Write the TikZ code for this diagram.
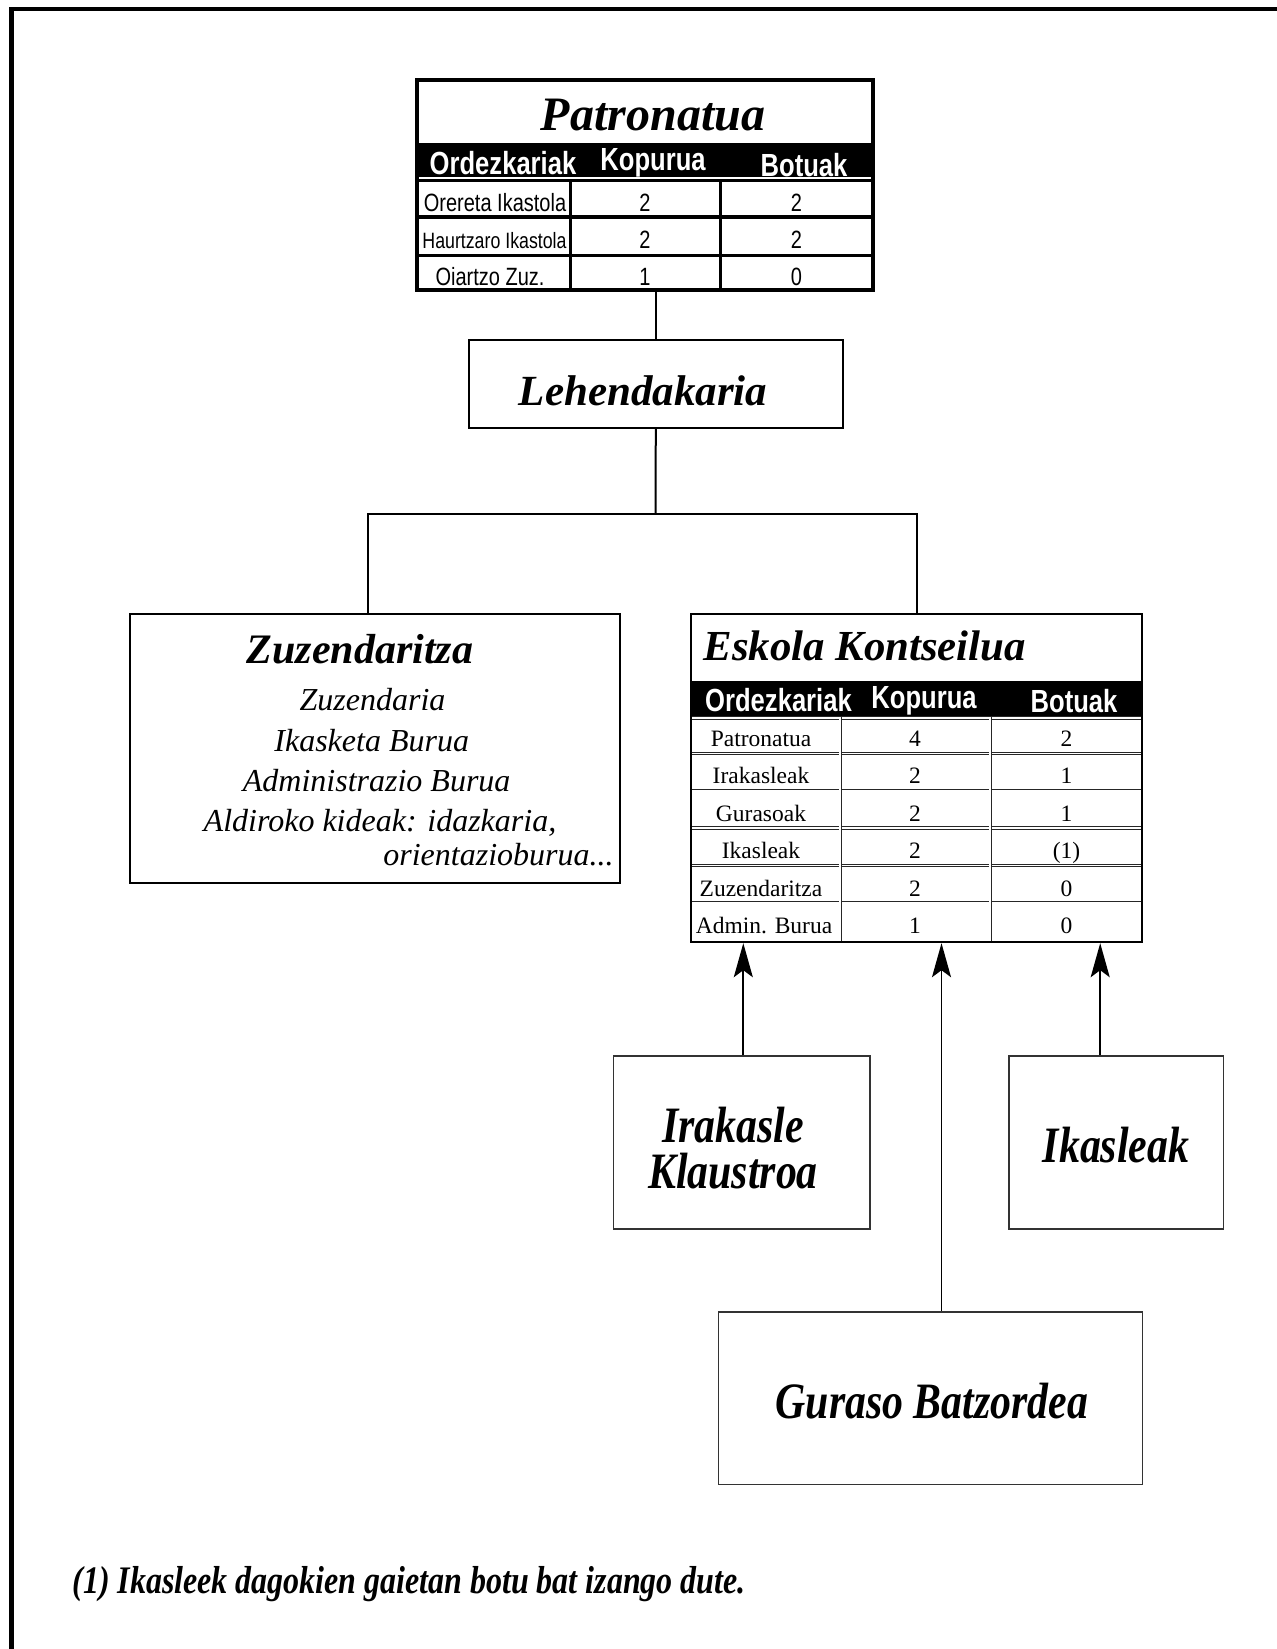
\documentclass[tikz,border=0pt]{standalone}
\usepackage{fontspec}
\setmainfont{Liberation Serif}
\newfontfamily\narrowsans[FakeStretch=0.8]{Liberation Sans}
\newfontfamily\narrowserif[FakeStretch=0.82]{Liberation Serif}
\usetikzlibrary{arrows.meta}

\begin{document}
\begin{tikzpicture}[x=0.5pt, y=-0.5pt,
	box/.style={draw, line width=1pt, inner sep=0pt},
	lowbox/.style={draw=black!80, line width=0.8pt, inner sep=0pt, minimum height=86.3pt},
	bigtitle/.style={inner sep=0pt, anchor=base, font=\fontsize{22}{26}\selectfont\bfseries\itshape},
	member/.style={inner sep=0pt, anchor=base, font=\fontsize{16}{20}\selectfont\itshape},
	hdr/.style={inner sep=0pt, anchor=base, text=white, font=\narrowsans\fontsize{16}{18}\selectfont\bfseries},
	pcell/.style={inner sep=0pt, anchor=base, font=\narrowsans\fontsize{12.5}{14}\selectfont},
	ecell/.style={inner sep=0pt, anchor=base, font=\fontsize{11.75}{14}\selectfont},
	group/.style={inner sep=0pt, align=center, font=\narrowserif\fontsize{25.5}{23}\selectfont\bfseries\itshape},
	rowline/.style={draw=black!85, line width=0.4pt, double=white, double distance=0.8pt},
	up/.style={-{Stealth[length=17pt, width=9.5pt, inset=3.5pt]}, line width=0.9pt}]
	\useasboundingbox (0,0) rectangle (1276,1649);
	
	%Frame
	\draw[line width=2.2pt] (11.5,1670) -- (11.5,9) -- (1300,9);
	
	%Patronatua
	\fill[black] (418,142.7) rectangle (872,177.3);
	\draw[line width=1.2pt] (418,180.5) -- (872,180.5);
	\draw[line width=1.6pt] (418,217) -- (872,217);
	\draw[line width=1.6pt] (418,255.3) -- (872,255.3);
	\draw[line width=1.6pt] (570.5,180) -- (570.5,290);
	\draw[line width=1.6pt] (720.5,180) -- (720.5,290);
	\node[draw, line width=2pt, inner sep=0pt, minimum width=228pt, minimum height=105.25pt] (patr) at (645,184.75) {};
	\node[bigtitle, font=\fontsize{24}{28}\selectfont\bfseries\itshape] (patr-t) at (653,130) {Patronatua};
	\node[hdr] (ph1) at (503,174) {Ordezkariak};
	\node[hdr] (ph2) at (653,170) {Kopurua};
	\node[hdr] (ph3) at (804,176) {Botuak};
	\node[pcell] (p11) at (495,211.7) {Orereta Ikastola};
	\node[pcell] (p12) at (645,211.7) {2};
	\node[pcell] (p13) at (796.5,211.7) {2};
	\node[pcell, font=\narrowsans\fontsize{11.1}{13}\selectfont] (p21) at (494.5,248) {Haurtzaro Ikastola};
	\node[pcell] (p22) at (645,248) {2};
	\node[pcell] (p23) at (796.5,248) {2};
	\node[pcell] (p31) at (490,285) {Oiartzo Zuz.};
	\node[pcell] (p32) at (645,285) {1};
	\node[pcell] (p33) at (796.5,285) {0};
	
	%Lehendakaria
	\node[box, minimum width=187pt, minimum height=44pt] (leh) at (655.8,384.2) {};
	\node[bigtitle, font=\fontsize{21.5}{26}\selectfont\bfseries\itshape] (leh-t) at (643,405) {Lehendakaria};
	
	%Zuzendaritza
	\node[box, minimum width=245pt, minimum height=134.5pt] (zuz) at (375,748) {};
	\node[bigtitle, font=\fontsize{21}{26}\selectfont\bfseries\itshape] (zuz-t) at (360,663) {Zuzendaritza};
	\node[member] (z1) at (372.5,710) {Zuzendaria};
	\node[member] (z2) at (371.7,751.7) {Ikasketa Burua};
	\node[member] (z3) at (376.7,791.7) {Administrazio Burua};
	\node[member] (z4) at (380,831.7) {Aldiroko kideak: idazkaria,};
	\node[member, anchor=base east] (z5) at (614,865) {orientazioburua...};
	
	%Eskola Kontseilua
	\fill[black] (691.8,681) rectangle (1141.6,716.7);
	\draw[rowline] (691.8,718) -- (1141.6,718);
	\draw[rowline] (691.8,753.3) -- (1141.6,753.3);
	\draw[rowline] (691.8,790.7) -- (1141.6,790.7);
	\draw[rowline] (691.8,828) -- (1141.6,828);
	\draw[rowline] (691.8,865.3) -- (1141.6,865.3);
	\draw[rowline] (691.8,902.7) -- (1141.6,902.7);
	\draw[rowline] (840.2,717) -- (840.2,941.4);
	\draw[rowline] (990.2,717) -- (990.2,941.4);
	\node[box, line width=1.2pt, minimum width=225.5pt, minimum height=164.1pt] (esk) at (916.7,777.9) {};
	\node[bigtitle, anchor=base west, font=\fontsize{21.4}{26}\selectfont\bfseries\itshape] (esk-t) at (703.3,660) {Eskola Kontseilua};
	\node[hdr] (eh1) at (778.5,711.7) {Ordezkariak};
	\node[hdr] (eh2) at (924,708.3) {Kopurua};
	\node[hdr] (eh3) at (1074,712.7) {Botuak};
	\node[ecell] (e11) at (761,746.7) {Patronatua};
	\node[ecell] (e12) at (915,746.7) {4};
	\node[ecell] (e13) at (1066.5,746.7) {2};
	\node[ecell] (e21) at (761,783.3) {Irakasleak};
	\node[ecell] (e22) at (915,783.3) {2};
	\node[ecell] (e23) at (1066.5,783.3) {1};
	\node[ecell] (e31) at (761,821) {Gurasoak};
	\node[ecell] (e32) at (915,821) {2};
	\node[ecell] (e33) at (1066.5,821) {1};
	\node[ecell] (e41) at (761,858.3) {Ikasleak};
	\node[ecell] (e42) at (915,858.3) {2};
	\node[ecell] (e43) at (1066.5,858.3) {(1)};
	\node[ecell] (e51) at (761,896) {Zuzendaritza};
	\node[ecell] (e52) at (915,896) {2};
	\node[ecell] (e53) at (1066.5,896) {0};
	\node[ecell] (e61) at (764,933.3) {Admin. Burua};
	\node[ecell] (e62) at (915,933.3) {1};
	\node[ecell] (e63) at (1066.5,933.3) {0};
	
	%Lower boxes
	\node[lowbox, minimum width=128.3pt] (ira) at (741.7,1142.5) {};
	\node[group] (ira-t) at (733,1148) {Irakasle\\Klaustroa};
	\node[lowbox, minimum width=107.3pt] (ikas) at (1116.2,1142.5) {};
	\node[group, anchor=base] (ikas-t) at (1116,1162) {Ikasleak};
	\node[lowbox, minimum width=212pt] (gur) at (930.5,1398.1) {};
	\node[group, anchor=base] (gur-t) at (932,1418) {Guraso Batzordea};
	
	%Lines
	\draw[line width=1pt] (leh.north) -- (leh.north |- patr.south);
	\coordinate (split) at (655.5,514.3);
	\draw[line width=1pt] (leh.south) -- (split);
	\draw[line width=1pt] ([xshift=-3.6pt]zuz.north) |- (split) -| (esk.north);
	
	%Arrows
	\draw[up] ([xshift=0.8pt]ira.north) -- ([xshift=0.8pt]ira.north |- esk.south);
	\draw[up] ([xshift=5.5pt]gur.north) -- ([xshift=5.5pt]gur.north |- esk.south);
	\draw[up] ([xshift=-8pt]ikas.north) -- ([xshift=-8pt]ikas.north |- esk.south);
	
	%Note
	\node[inner sep=0pt, anchor=base west, font=\narrowserif\fontsize{19.5}{22}\selectfont\bfseries\itshape] (note) at (72,1593) {(1) Ikasleek dagokien gaietan botu bat izango dute.};
\end{tikzpicture}
\end{document}
